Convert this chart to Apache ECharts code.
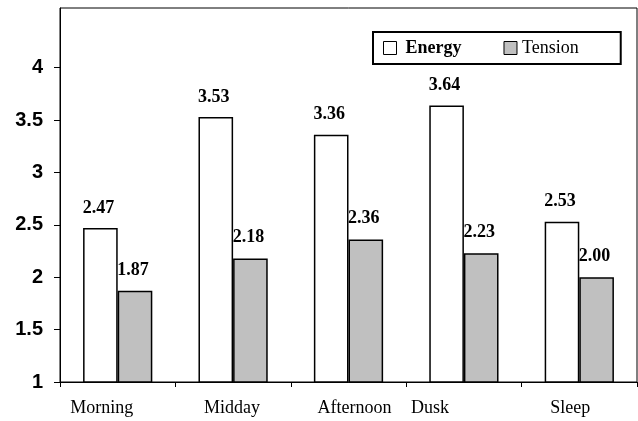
<!DOCTYPE html>
<html>
<head>
<meta charset="utf-8">
<script src="https://cdn.jsdelivr.net/npm/echarts@6/dist/echarts.min.js"></script>
<style>html,body{margin:0;padding:0;background:#fff}#c{width:638px;height:421px}</style>
</head>
<body>
<div id="c"></div>
<script>
const categories = ['Morning', 'Midday', 'Afternoon', 'Dusk', 'Sleep'];
const energy = [2.47, 3.53, 3.36, 3.64, 2.53];
const tension = [1.87, 2.18, 2.36, 2.23, 2.00];
const yTicks = [1, 1.5, 2, 2.5, 3, 3.5, 4];

// per-label horizontal nudges (px) as in the original layout
const labelShift = {Morning: -16, Midday: -1, Afternoon: 6, Dusk: -34, Sleep: -9};

const chart = echarts.init(document.getElementById('c'), null, {renderer: 'canvas'});
const serif = '"Liberation Serif", "Times New Roman", serif';
const sans = '"Liberation Sans", Arial, sans-serif';

function xRich() {
  const r = {};
  categories.forEach((c, i) => {
    const s = labelShift[c] || 0;
    r['c' + i] = {
      fontFamily: serif, fontSize: 18, color: '#000',
      padding: s < 0 ? [0, -2 * s, 0, 0] : [0, 0, 0, 2 * s]
    };
  });
  return r;
}

chart.setOption({
  animation: false,
  backgroundColor: '#fff',
  grid: {left: 60, top: 8, right: 1, bottom: 39, show: true, borderColor: '#000', borderWidth: 1, backgroundColor: 'transparent'},
  legend: {
    left: 373, top: 32,
    orient: 'horizontal',
    padding: [7, 42, 7, 10],
    itemGap: 42,
    itemWidth: 13, itemHeight: 13,
    borderColor: '#000', borderWidth: 2,
    icon: 'rect',
    formatter: n => n === 'Energy' ? '{b|' + n + '}' : '{n|' + n + '}',
    data: [
      {name: 'Energy', itemStyle: {color: '#fff', borderColor: '#000', borderWidth: 1}},
      {name: 'Tension', itemStyle: {color: '#c0c0c0', borderColor: '#000', borderWidth: 1}}
    ],
    textStyle: {
      fontFamily: serif, fontSize: 18, color: '#000',
      rich: {
        b: {fontFamily: serif, fontSize: 18, fontWeight: 'bold', color: '#000', padding: [0, 0, 0, 4]},
        n: {fontFamily: serif, fontSize: 18, color: '#000'}
      }
    }
  },
  xAxis: {
    type: 'category',
    data: categories,
    axisLine: {lineStyle: {color: '#000', width: 1}},
    axisTick: {show: true, interval: 0, length: 5, lineStyle: {color: '#000'}},
    axisLabel: {
      interval: 0,
      hideOverlap: false,
      margin: 17,
      color: '#000', fontFamily: serif, fontSize: 18,
      formatter: (v) => '{c' + categories.indexOf(v) + '|' + v + '}',
      rich: xRich()
    }
  },
  yAxis: {
    type: 'value',
    min: 1, max: 4.57,
    splitLine: {show: false},
    axisLine: {show: true, lineStyle: {color: '#000', width: 1}},
    axisTick: {show: true, length: 6, lineStyle: {color: '#000'}, customValues: yTicks},
    axisLabel: {
      customValues: yTicks,
      margin: 17,
      color: '#000', fontFamily: sans, fontSize: 20, fontWeight: 'bold',
      formatter: v => String(v)
    }
  },
  series: [
    {
      name: 'Energy', type: 'bar', data: energy,
      barWidth: '30%', barGap: '0%',
      itemStyle: {color: '#fff', borderColor: '#000', borderWidth: 1.5},
      label: {show: true, position: 'top', distance: 11, offset: [-2, 0],
        formatter: p => p.value.toFixed(2),
        fontFamily: serif, fontSize: 18, fontWeight: 'bold', color: '#000'}
    },
    {
      name: 'Tension', type: 'bar', data: tension,
      barWidth: '30%', barGap: '0%',
      itemStyle: {color: '#c0c0c0', borderColor: '#000', borderWidth: 1.5},
      label: {show: true, position: 'top', distance: 12, offset: [-2, 0],
        formatter: p => p.value.toFixed(2),
        fontFamily: serif, fontSize: 18, fontWeight: 'bold', color: '#000'}
    }
  ]
});
</script>
</body>
</html>
